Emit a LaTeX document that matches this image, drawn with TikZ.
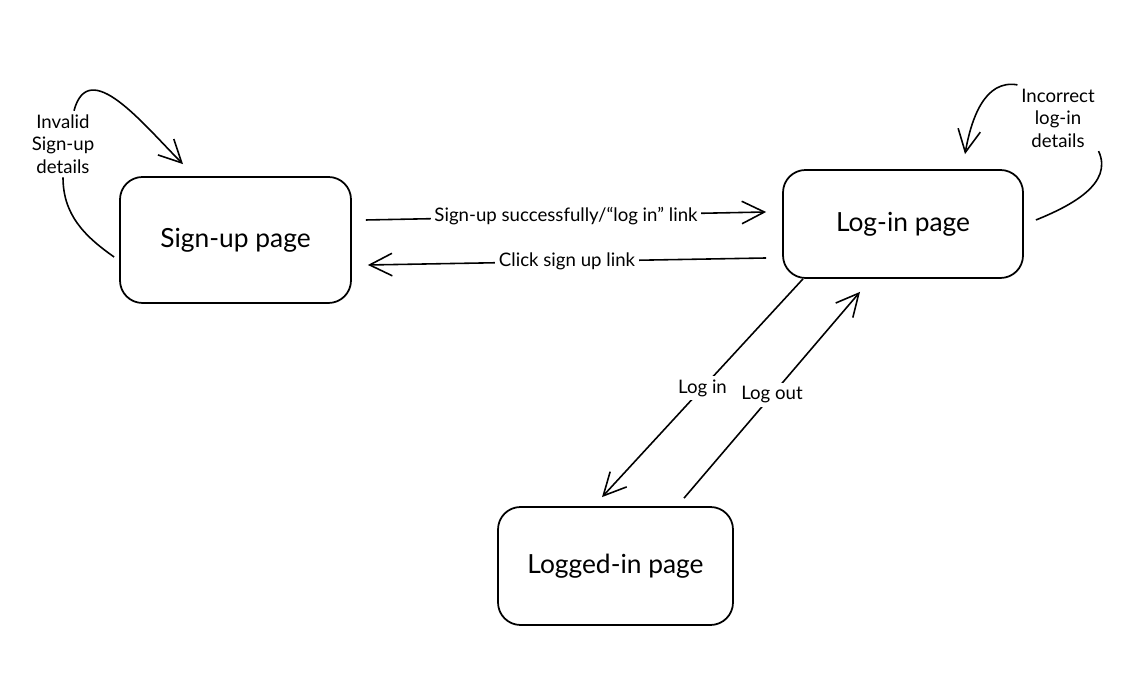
\documentclass[tikz,border=0pt]{standalone}
\usepackage{fontspec}
\setmainfont{Lato}
\usetikzlibrary{arrows.meta}

\begin{document}
\begin{tikzpicture}[
        estado/.style={draw, line width=1pt, rounded corners=0.45cm, align=center, font=\fontsize{15}{17}\selectfont},
        rotulo/.style={fill=white, align=center, inner sep=2pt, font=\fontsize{10.6}{12.8}\selectfont},
        seta/.style={line width=0.9pt, -{Straight Barb[length=4.5mm, width=4.5mm]}}
    ]
        % 1. AREA (same proportions as the sketch)
        \def\W{22.76}  % picture width
        \def\H{13.84}  % picture height
        \useasboundingbox (0,0) rectangle (\W,\H);

        % ==========================================
        % 2. PAGES
        % ==========================================
        \node[estado, minimum width=4.62cm, minimum height=2.52cm] (signup) at (4.71,9.04) {Sign-up page};
        \node[estado, minimum width=4.80cm, minimum height=2.16cm] (login) at (18.06,9.36) {Log-in page};
        \node[estado, minimum width=4.70cm, minimum height=2.36cm] (loggedin) at (12.31,2.52) {Logged-in page};

        % ==========================================
        % 3. SIGN-UP <-> LOG-IN
        % ==========================================
        \draw[seta] ([shift={(0.28,0.40)}]signup.east) -- node[rotulo] {Sign-up successfully/``log in'' link} ([shift={(-0.32,0.24)}]login.west);
        \draw[seta] ([shift={(-0.32,-0.68)}]login.west) -- node[rotulo] {Click sign up link} ([shift={(0.32,-0.50)}]signup.east);

        % ==========================================
        % 4. LOG-IN <-> LOGGED-IN
        % ==========================================
        \draw[seta] ([xshift=-2.0cm]login.south) -- node[rotulo] {Log in} ([shift={(-0.27,0.18)}]loggedin.north);
        \draw[seta] ([shift={(1.37,0.16)}]loggedin.north) -- node[rotulo] {Log out} ([shift={(-0.86,-0.26)}]login.south);

        % ==========================================
        % 5. LOOPS BACK TO THE SAME PAGE
        % ==========================================
        % Sign-up page loop
        \node[rotulo, fill=none] (invalido) at (1.26,10.96) {Invalid\\Sign-up\\details};
        \draw[line width=0.9pt] ([shift={(-0.10,-0.34)}]signup.west) to[out=145, in=-90] (invalido.south);
        \draw[seta] ([xshift=0.22cm]invalido.north) to[out=75, in=135, looseness=1.2] ([shift={(-1.05,0.24)}]signup.north);

        % Log-in page loop
        \node[rotulo, fill=none] (incorreto) at (21.16,11.48) {Incorrect\\log-in\\details};
        \draw[line width=0.9pt] ([shift={(0.24,0.08)}]login.east) to[out=22, in=-65] (incorreto.south east);
        \draw[seta] (incorreto.north west) to[out=170, in=80] ([shift={(1.24,0.30)}]login.north);
    \end{tikzpicture}
\end{document}
